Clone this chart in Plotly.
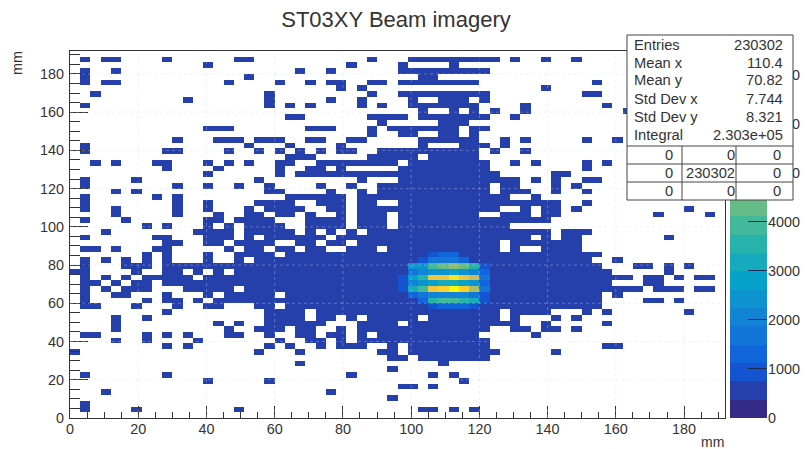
import numpy as np
import plotly.graph_objects as go

TITLE = "ST03XY Beam imagery"
N_BINS = 64
BIN_WIDTH = 3
AXIS_MAX = 192
Z_MAX = 7480
N_LEVELS = 20
LOW_BIN_VALUE = 500

# occupied bins per row, top row first: column indices / ranges
occupied_rows = [
    "", "1 3-4 9 16-17 29 33-41 43 46 49", "13 27 32 37", "1 4 22 25 32-40",
    "1 17 34-35", "1 3-4 15 20 23 25-26 29-30 32-39 51", "26 28 46",
    "2 19 29 32-40 50-51", "11 19 25 28 33 36-38 40",
    "1 19 21 23 28 30 33-39 44 52", "34 37 39 41 44 54",
    "21-22 29-32 34-40 43", "30 36-38", "13-15 23-25 29 31-37 39-40",
    "29 32-33 36-37 39", "10 14-16 18-20 23-24 27-28 34-39 42 44 50 53",
    "1 17 21 26 34 38-40 42", "1 9-10 15 18 20 22 24 26-27 30-39 41 44",
    "21-23 29-33 35-39", "2 4 8-9 13 15 17 20-21 24-31 33-40 43 45 50 52",
    "9 14 20 23-24 26 32-40 50", "13 20 22-41 47-48",
    "1 6 18 28 32-43 45 47 50-51", "1 10 13 16 19 24 27 30-40 42-43 47 49",
    "4 6 19-20 25 28 30-40 42-44 47 50", "1 8 10 21-26 28-42 45",
    "1 10 13 18-21 24-26 28-29 32-47 50",
    "1 4 10 13 17 19-22 25-26 28-41 44 46-47 49 60",
    "4 10 14 17-18 20-21 23 26 28-30 32-39 42-44 46-47 57 62",
    "1 5 13-14 16-19 23-26 28-30 32-46", "7 9 13 15 17-20 23-26 28-30 32-42",
    "3 12-15 17-21 23 25 27 29-46 48-50",
    "1 8-9 13-15 17 19-24 26-44 46 48-49 58",
    "9-10 13-14 16-19 22-23 25-26 28-41 43-49",
    "1-2 4 8-9 15 17-18 20-21 23-24 27-29 31-41 43 46-49",
    "7 9 13 16-19 21-51", "1 3 5 7 9 13 16 18-50 53",
    "1 5-7 9-51 55-56 58 60", "0-1 6 9-10 12 14 16-52 58",
    "1 3 5 7-11 13-54 56-57 59 61-62", "1-2 4 6-7 9-52 56-57",
    "1 3 5-7 11-15 17-55 57-59 61-62", "1 4-5 9 13 15-19 21-51 53",
    "1 7 9-10 12 14-51 56-57 59", "1-2 6 10 13-14 18-19 21-51",
    "9 19-22 24-41 43-46 50 52 60", "4 7 19-22 24-25 27 29-33 35-41 43 47 49",
    "4 14 16 19-24 28-31 33-43 46 52",
    "4 15 18-20 22-23 26 28-40 43-44 46-47 49",
    "1-2 7 9 11 15-16 19 22-23 25-26 28 30-39 45",
    "4 7 12 20 23-24 26 28-40", "9 11 19 21 24 26-28 31 33-40 52-53",
    "0 18 22 30-31 33-41 47", "31-32 34-40", "22 36", "31", "1 9 27 35 37",
    "13 19 38", "32-33 35", "3 25", "31", "1", "1 6 16 34-35 37 39", "",
]

# beam core counts: rows 35-44 from the top, columns 32-41
core_first_row = 35
core_first_col = 32
core_counts = [
    [0, 0, 0, 1100, 1200, 1200, 0, 0, 0, 0],
    [0, 700, 1000, 1500, 1600, 1600, 1400, 700, 0, 0],
    [0, 2400, 2600, 3800, 4200, 4600, 4200, 3400, 800, 0],
    [0, 1800, 2000, 2400, 2600, 2700, 2400, 2000, 1200, 0],
    [1000, 2800, 3600, 6000, 6300, 7000, 6200, 5400, 1500, 0],
    [800, 1900, 2400, 2800, 3000, 3200, 2800, 2300, 1400, 0],
    [1000, 3000, 3800, 6200, 6600, 7400, 6400, 5200, 1700, 700],
    [700, 1400, 1800, 2000, 2200, 2200, 2000, 1700, 900, 0],
    [0, 0, 1300, 3400, 3800, 3800, 3600, 3000, 800, 0],
    [0, 0, 0, 800, 1200, 1300, 1200, 800, 0, 0],
]

stats_labels = ["Entries", "Mean x", "Mean y", "Std Dev x", "Std Dev y", "Integral"]
stats_values = ["230302", "110.4", "70.82", "7.744", "8.321", "2.303e+05"]
overflow_table = [["0", "0", "0"], ["0", "230302", "0"], ["0", "0", "0"]]

axis_ticks = [20, 40, 60, 80, 100, 120, 140, 160, 180]
colorbar_ticks = [0, 1000, 2000, 3000, 4000, 5000, 6000, 7000]

# kBird palette stops
bird_r = [0.2082, 0.0592, 0.0780, 0.0232, 0.1802, 0.5301, 0.8186, 0.9956, 0.9764]
bird_g = [0.1664, 0.3599, 0.5041, 0.6419, 0.7178, 0.7492, 0.7328, 0.7862, 0.9832]
bird_b = [0.5293, 0.8684, 0.8385, 0.7914, 0.6425, 0.4662, 0.3499, 0.1968, 0.0539]

W, H = 805, 449
L, R, T, B = 70, 725, 51, 418
CB_L, CB_R = 730, 767


def px(x):
    return x / W


def py(y):
    return 1 - y / H


z = [[None] * N_BINS for _ in range(N_BINS)]
for r, spec in enumerate(occupied_rows):
    for part in spec.split():
        a, _, b = part.partition("-")
        for c in range(int(a), int(b or a) + 1):
            z[r][c] = LOW_BIN_VALUE
for i, row in enumerate(core_counts):
    for j, v in enumerate(row):
        if v:
            z[core_first_row + i][core_first_col + j] = v
z = z[::-1]  # bottom row first

centers = [BIN_WIDTH * (i + 0.5) for i in range(N_BINS)]

stops = np.linspace(0, 1, len(bird_r))
colorscale = []
for i in range(N_LEVELS):
    t = i / (N_LEVELS - 1)
    rgb = [round(255 * float(np.interp(t, stops, ch))) for ch in (bird_r, bird_g, bird_b)]
    col = f"rgb({rgb[0]},{rgb[1]},{rgb[2]})"
    colorscale += [[i / N_LEVELS, col], [(i + 1) / N_LEVELS, col]]

step = Z_MAX / N_LEVELS
levels = [step * (i + 0.5) for i in range(N_LEVELS)]

fig = go.Figure()
fig.add_trace(go.Heatmap(x=centers, y=centers, z=z, zmin=0, zmax=Z_MAX, colorscale=colorscale,
                         showscale=False, hoverongaps=False, xaxis="x", yaxis="y"))
fig.add_trace(go.Heatmap(x=[0.5], y=levels, z=[[v] for v in levels], zmin=0, zmax=Z_MAX,
                         colorscale=colorscale, showscale=False, xaxis="x2", yaxis="y2"))

FONT = "Liberation Sans, Arial, sans-serif"
TXT = "#333333"
LINE = "#333333"
TICK_SIZE = 14.4
STAT_SIZE = 14.7

shapes = []
grid_color = "rgba(205,215,240,0.35)"
for t in axis_ticks:
    shapes.append(dict(type="line", xref="x", yref="y domain", x0=t, x1=t, y0=0, y1=1,
                       line=dict(color=grid_color, width=1, dash="dot")))
    shapes.append(dict(type="line", xref="x domain", yref="y", x0=0, x1=1, y0=t, y1=t,
                       line=dict(color=grid_color, width=1, dash="dot")))

BOX_L, BOX_R, BOX_T, BOX_B = 627, 793, 35, 200
box_line = dict(color="#444444", width=1)
shapes.append(dict(type="rect", xref="paper", yref="paper", x0=px(BOX_L), x1=px(BOX_R),
                   y0=py(BOX_B), y1=py(BOX_T), fillcolor="white", line=box_line))
for y in (146, 164, 182):
    shapes.append(dict(type="line", xref="paper", yref="paper", x0=px(BOX_L), x1=px(BOX_R),
                       y0=py(y), y1=py(y), line=box_line))
for x in (682, 736):
    shapes.append(dict(type="line", xref="paper", yref="paper", x0=px(x), x1=px(x),
                       y0=py(BOX_B), y1=py(146), line=box_line))

annotations = []


def text(s, x, y, anchor="left", size=STAT_SIZE, angle=0):
    annotations.append(dict(text=s, xref="paper", yref="paper", x=px(x), y=py(y), xanchor=anchor,
                            yanchor="middle", showarrow=False, textangle=angle,
                            borderpad=0, borderwidth=0,
                            font=dict(family=FONT, size=size, color=TXT)))


for i, (lab, val) in enumerate(zip(stats_labels, stats_values)):
    y = [45, 63, 80, 99, 117, 135][i]
    text(lab, 634, y)
    text(val, 783, y, "right")
for row, y in zip(overflow_table, (155, 173, 191)):
    for val, x in zip(row, (673, 735, 781)):
        text(val, x, y, "right")
text("mm", 724, 442, "right", 14)
text("mm", 17, 63, "center", 14.5, -90)

axis_common = dict(showgrid=False, zeroline=False, showline=True, linecolor=LINE, linewidth=1,
                   mirror=True, ticks="inside", tickcolor=LINE, tickwidth=1, tick0=0, dtick=20,
                   automargin=False, tickfont=dict(family=FONT, size=TICK_SIZE, color=TXT))

fig.update_layout(
    width=W, height=H, margin=dict(l=0, r=0, t=0, b=0), plot_bgcolor="white", paper_bgcolor="white",
    autosize=False, showlegend=False,
    title=dict(text=TITLE, x=396 / W, xanchor="center", y=py(19), yanchor="middle", xref="paper",
               automargin=False, font=dict(family=FONT, size=22, color=TXT)),
    xaxis=dict(domain=[px(L), px(R)], range=[0, AXIS_MAX], anchor="y", ticklen=12,
               ticklabelstandoff=-2,
               minor=dict(dtick=5, tick0=0, ticks="inside", ticklen=6, tickcolor=LINE, showgrid=False),
               **axis_common),
    yaxis=dict(domain=[py(B), py(T)], range=[0, AXIS_MAX], anchor="x", ticklen=18,
               ticklabelstandoff=2,
               minor=dict(dtick=5, tick0=0, ticks="inside", ticklen=10, tickcolor=LINE, showgrid=False),
               **axis_common),
    xaxis2=dict(domain=[px(CB_L), px(CB_R)], range=[0, 1], anchor="y2", visible=False, automargin=False),
    yaxis2=dict(domain=[py(B), py(T)], range=[0, Z_MAX], anchor="x2", side="right", showgrid=False,
                zeroline=False, showline=False, ticks="inside", ticklen=19, tickcolor="#1a2a50", tickwidth=1,
                automargin=False, tickvals=colorbar_ticks, ticktext=[str(v) for v in colorbar_ticks],
                tickfont=dict(family=FONT, size=TICK_SIZE, color=TXT)),
    shapes=shapes, annotations=annotations,
)

fig.write_html("out.html", config={"displayModeBar": False},
               post_script="document.body.style.margin='0';")
